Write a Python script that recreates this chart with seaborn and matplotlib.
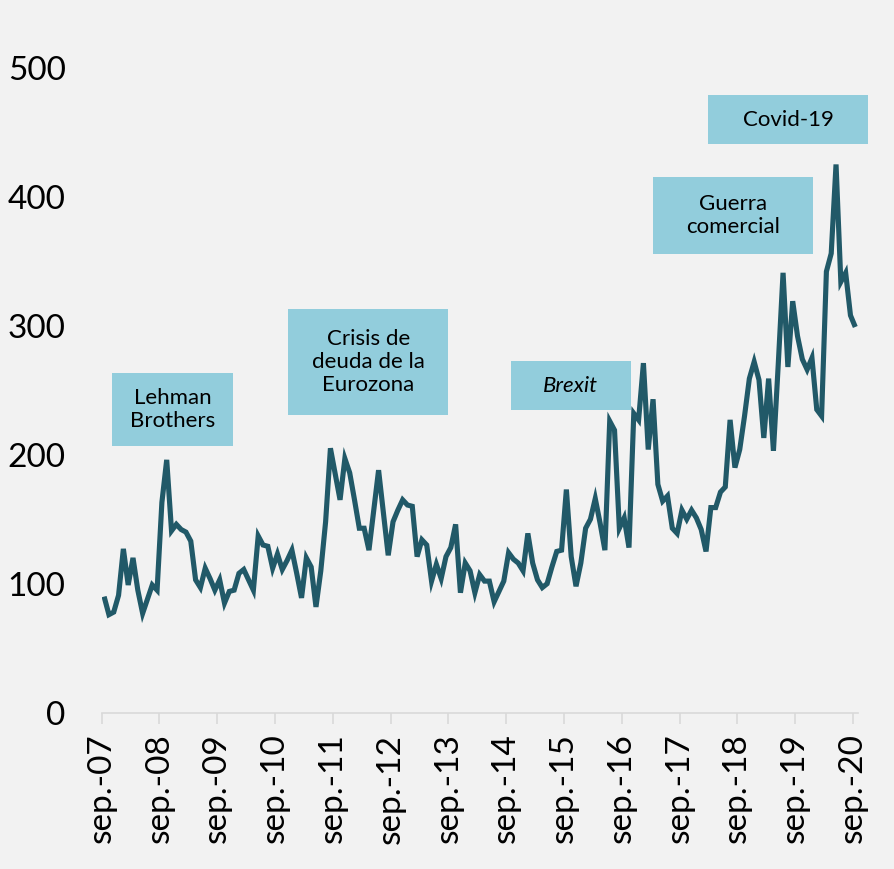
import numpy as np
import pandas as pd
import matplotlib
matplotlib.use("Agg")
import matplotlib.pyplot as plt
from matplotlib.patches import Rectangle
import seaborn as sns

# ---- data ----
values = [
    90, 76, 78, 91, 127, 99, 120, 95, 77, 88, 99, 95,
    163, 196, 141, 146, 142, 140, 133, 103, 97, 112, 104, 95,
    103, 85, 94, 95, 108, 111, 103, 95, 137, 130, 129, 112,
    123, 111, 118, 126, 108, 89, 120, 113, 82, 110, 148, 205,
    185, 165, 197, 186, 165, 143, 143, 126, 157, 188, 155, 122,
    148, 157, 165, 161, 160, 121, 134, 130, 102, 115, 104, 121,
    128, 146, 93, 116, 110, 93, 107, 102, 102, 86, 94, 102,
    124, 119, 116, 110, 139, 116, 103, 97, 100, 113, 125, 126,
    173, 121, 98, 116, 143, 150, 166, 147, 126, 226, 219, 143,
    151, 128, 232, 227, 271, 204, 243, 177, 164, 168, 143, 139,
    157, 150, 157, 151, 142, 125, 159, 159, 171, 175, 227, 190,
    204, 230, 259, 272, 258, 213, 259, 203, 270, 341, 268, 319,
    292, 274, 266, 275, 235, 230, 342, 356, 425, 334, 341, 308,
    299,
]
tick_labels = ["sep.-07", "sep.-08", "sep.-09", "sep.-10", "sep.-11", "sep.-12",
               "sep.-13", "sep.-14", "sep.-15", "sep.-16", "sep.-17", "sep.-18",
               "sep.-19", "sep.-20"]
y_ticks = [0, 100, 200, 300, 400, 500]
annotations = ["Lehman\nBrothers", "Crisis de\ndeuda de la\nEurozona", "Brexit",
               "Guerra\ncomercial", "Covid-19"]

df = pd.DataFrame({"mes": np.arange(len(values)), "valor": values})

# ---- style ----
W, H = 895, 869
BG = "#F2F2F2"
LINE = "#215968"
BOX = "#92CDDC"

sns.set_theme(style="white")
plt.rcParams["font.family"] = ["Lato", "DejaVu Sans"]

fig = plt.figure(figsize=(W / 100, H / 100), dpi=100, facecolor=BG)
ax = fig.add_axes([101.7 / W, 1 - 712.7 / H, (857.7 - 101.7) / W, (712.7 - 3.2) / H])
ax.set_facecolor(BG)

sns.lineplot(data=df, x="mes", y="valor", ax=ax, color=LINE, linewidth=3.7,
             solid_joinstyle="miter", solid_capstyle="butt")

n = len(values)
ax.set_xlim(-0.5, n - 0.5)
ax.set_ylim(0, 550)
ax.set_xticks([-0.5 + 12 * i for i in range(len(tick_labels))])
ax.set_xticklabels(tick_labels, rotation=90, fontsize=24, va="top", ha="center")
ax.set_yticks(y_ticks)
ax.set_yticklabels([str(v) for v in y_ticks], fontsize=24)
ax.set_xlabel("")
ax.set_ylabel("")

for s in ["top", "right", "left"]:
    ax.spines[s].set_visible(False)
ax.spines["bottom"].set_color("#D9D9D9")
ax.spines["bottom"].set_linewidth(1.2)
ax.tick_params(axis="x", length=8, width=1.2, color="#D9D9D9", pad=7,
               labelcolor="black", direction="out", bottom=True)
ax.tick_params(axis="y", length=0, pad=26, labelcolor="black")

# ---- annotation boxes (pixel bounds in the reference: left, top, right, bottom) ----
boxes = [
    (111.7, 373.3, 233.3, 445.7),
    (288.3, 309.3, 448.3, 415.0),
    (511.0, 361.0, 630.7, 410.0),
    (653.0, 176.7, 812.7, 254.3),
    (708.3, 95.0, 867.7, 144.0),
]
styles = ["normal", "normal", "italic", "normal", "normal"]
for (l, t, r, b), txt, st in zip(boxes, annotations, styles):
    fig.patches.append(Rectangle((l / W, 1 - b / H), (r - l) / W, (b - t) / H,
                                 transform=fig.transFigure, facecolor=BOX,
                                 edgecolor="none", zorder=5))
    fig.text((l + r) / 2 / W, 1 - (t + b) / 2 / H, txt, ha="center", va="center",
             fontsize=16, style=st, color="black", zorder=6, linespacing=1.2)

fig.savefig("out.png", dpi=100, facecolor=BG)
